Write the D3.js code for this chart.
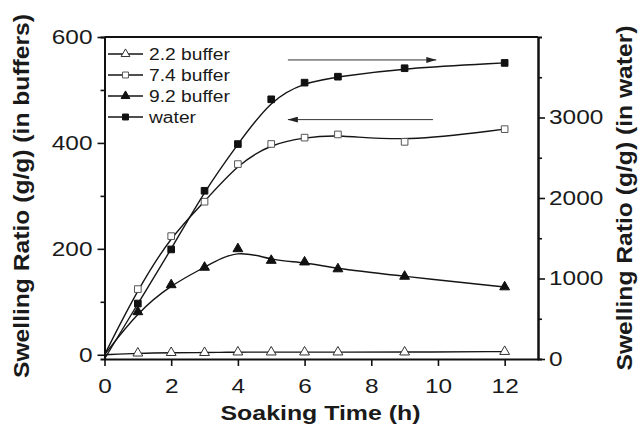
<!DOCTYPE html>
<html>
<head>
<meta charset="utf-8">
<script src="https://cdn.jsdelivr.net/npm/d3@7"></script>
<style>
    body{margin:0;background:#fff;}
    text{font-family:"Liberation Sans",Arial,sans-serif;fill:#1a1a1a;}
</style>
</head>
<body>
<svg id="chart" width="640" height="426"></svg>
<script>
var time = [0, 1, 2, 3, 4, 5, 6, 7, 9, 12];
var buffer22 = [0, 3, 4, 4, 5, 5, 5, 5, 5, 6];
var buffer74 = [0, 124, 224, 289, 360, 398, 410, 416, 402, 426];
var buffer92 = [0, 81, 132, 165, 200, 178, 175, 162, 148, 128];
var water = [0, 689, 1361, 2090, 2670, 3226, 3433, 3507, 3612, 3678];

var seriesNames = ["2.2 buffer", "7.4 buffer", "9.2 buffer", "water"];
var xTicks = [0, 2, 4, 6, 8, 10, 12];
var leftTicks = [0, 200, 400, 600];
var leftMinor = [100, 300, 500];
var rightTicks = [0, 1000, 2000, 3000];
var rightMinor = [500, 1500, 2500, 3500];

// arrows show which axis a curve belongs to (time from, time to, value)
var arrowFrom = [5.5, 5.5];
var arrowTo = [9.95, 9.85];
var arrowValue = [3715, 444];
var arrowAxis = ["right", "left"];

var svg = d3.select("#chart");
var plotLeft = 104.5, plotRight = 538, plotTop = 37, plotBottom = 359;

var x = d3.scaleLinear().domain([0, 13]).range([plotLeft, plotRight]);
var yL = d3.scaleLinear().domain([-8, 600]).range([plotBottom, plotTop]);
var yR = d3.scaleLinear().domain([0, 4000]).range([plotBottom, plotTop]);

// stretch text a bit wider, the original figure is wide-set
function stretch(sel, k){
    sel.each(function(){
        var w = this.getComputedTextLength();
        d3.select(this).attr("textLength", w * k).attr("lengthAdjust", "spacingAndGlyphs");
    });
}

function styleAxis(g){
    g.select(".domain").attr("stroke", "#111").attr("stroke-width", 2);
    g.selectAll(".tick line").attr("stroke", "#111").attr("stroke-width", 1.6);
    g.selectAll(".tick text").style("font-size", "20px").attr("fill", "#1a1a1a");
}

// minor ticks first
svg.append("g").attr("transform", "translate(" + plotLeft + ",0)")
    .call(d3.axisLeft(yL).tickValues(leftMinor).tickSize(4).tickFormat(""))
    .call(styleAxis);
svg.append("g").attr("transform", "translate(" + plotRight + ",0)")
    .call(d3.axisRight(yR).tickValues(rightMinor).tickSize(4).tickFormat(""))
    .call(styleAxis);

var gx = svg.append("g").attr("transform", "translate(0," + plotBottom + ")")
    .call(d3.axisBottom(x).tickValues(xTicks).tickSize(7).tickSizeOuter(0).tickPadding(9))
    .call(styleAxis);
gx.selectAll(".tick text").attr("dy", "0.9em");

var gl = svg.append("g").attr("transform", "translate(" + plotLeft + ",0)")
    .call(d3.axisLeft(yL).tickValues(leftTicks).tickSize(7).tickSizeOuter(0).tickPadding(5))
    .call(styleAxis);

var gr = svg.append("g").attr("transform", "translate(" + plotRight + ",0)")
    .call(d3.axisRight(yR).tickValues(rightTicks).tickFormat(d3.format("d"))
        .tickSize(7).tickSizeOuter(0).tickPadding(4))
    .call(styleAxis);

stretch(gx.selectAll(".tick text"), 1.22);
stretch(gl.selectAll(".tick text"), 1.22);
stretch(gr.selectAll(".tick text"), 1.22);

// top frame line
svg.append("line")
    .attr("x1", plotLeft).attr("x2", plotRight).attr("y1", plotTop).attr("y2", plotTop)
    .attr("stroke", "#111").attr("stroke-width", 2);

// series
var series = [
    {name: seriesNames[0], values: buffer22, y: yL, type: d3.symbolTriangle, size: 42, fill: "#fff", stroke: "#333"},
    {name: seriesNames[1], values: buffer74, y: yL, type: d3.symbolSquare, size: 44, fill: "#fff", stroke: "#555"},
    {name: seriesNames[2], values: buffer92, y: yL, type: d3.symbolTriangle, size: 42, fill: "#111", stroke: "#111"},
    {name: seriesNames[3], values: water, y: yR, type: d3.symbolSquare, size: 44, fill: "#111", stroke: "#111"}
];

series.forEach(function(s){
    var pts = time.map(function(t, i){ return [t, s.values[i]]; });
    var line = d3.line()
        .x(function(d){ return x(d[0]); })
        .y(function(d){ return s.y(d[1]); })
        .curve(d3.curveBasis);
    svg.append("path")
        .attr("d", line(pts))
        .attr("fill", "none")
        .attr("stroke", "#151515")
        .attr("stroke-width", 1.4);
    svg.append("g").selectAll("path")
        .data(pts.filter(function(d){ return d[0] > 0; }))
        .enter().append("path")
        .attr("transform", function(d){ return "translate(" + x(d[0]) + "," + s.y(d[1]) + ")"; })
        .attr("d", d3.symbol().type(s.type).size(s.size))
        .attr("fill", s.fill)
        .attr("stroke", s.stroke)
        .attr("stroke-width", 1);
});

// arrows
var defs = svg.append("defs");
defs.append("marker")
    .attr("id", "head")
    .attr("markerUnits", "userSpaceOnUse")
    .attr("markerWidth", 10).attr("markerHeight", 6)
    .attr("refX", 10).attr("refY", 3)
    .attr("orient", "auto-start-reverse")
    .append("path").attr("d", "M0,0 L10,3 L0,6 Z").attr("fill", "#222");

arrowFrom.forEach(function(f, i){
    var yy = arrowAxis[i] == "right" ? yR(arrowValue[i]) : yL(arrowValue[i]);
    var ln = svg.append("line")
        .attr("x1", x(f)).attr("x2", x(arrowTo[i]))
        .attr("y1", yy).attr("y2", yy)
        .attr("stroke", "#333").attr("stroke-width", 1);
    if(arrowAxis[i] == "right"){
        ln.attr("marker-end", "url(#head)");
    }else{
        ln.attr("marker-start", "url(#head)");
    }
});

// legend
var legend = svg.append("g");
series.forEach(function(s, i){
    var by = 59.5 + i * 21;
    var cy = by - 5.5;
    legend.append("line")
        .attr("x1", 108).attr("x2", 143).attr("y1", cy).attr("y2", cy)
        .attr("stroke", "#151515").attr("stroke-width", 1.4);
    legend.append("path")
        .attr("transform", "translate(125.5," + cy + ")")
        .attr("d", d3.symbol().type(s.type).size(s.size * 0.8))
        .attr("fill", s.fill)
        .attr("stroke", s.stroke)
        .attr("stroke-width", 1);
    var t = legend.append("text")
        .attr("x", 149).attr("y", by)
        .style("font-size", "16px")
        .text(s.name);
    stretch(t, 1.2);
});

// axis titles
svg.append("text")
    .attr("x", 320.5).attr("y", 420)
    .attr("text-anchor", "middle")
    .style("font-size", "21px").style("font-weight", "bold")
    .attr("textLength", 200).attr("lengthAdjust", "spacingAndGlyphs")
    .text("Soaking Time (h)");

svg.append("text")
    .attr("transform", "translate(29,196) rotate(-90)")
    .attr("text-anchor", "middle")
    .style("font-size", "21.5px").style("font-weight", "bold")
    .attr("textLength", 364).attr("lengthAdjust", "spacingAndGlyphs")
    .text("Swelling Ratio (g/g) (in buffers)");

svg.append("text")
    .attr("transform", "translate(632,198) rotate(-90)")
    .attr("text-anchor", "middle")
    .style("font-size", "21.5px").style("font-weight", "bold")
    .attr("textLength", 345).attr("lengthAdjust", "spacingAndGlyphs")
    .text("Swelling Ratio (g/g) (in water)");
</script>
</body>
</html>
